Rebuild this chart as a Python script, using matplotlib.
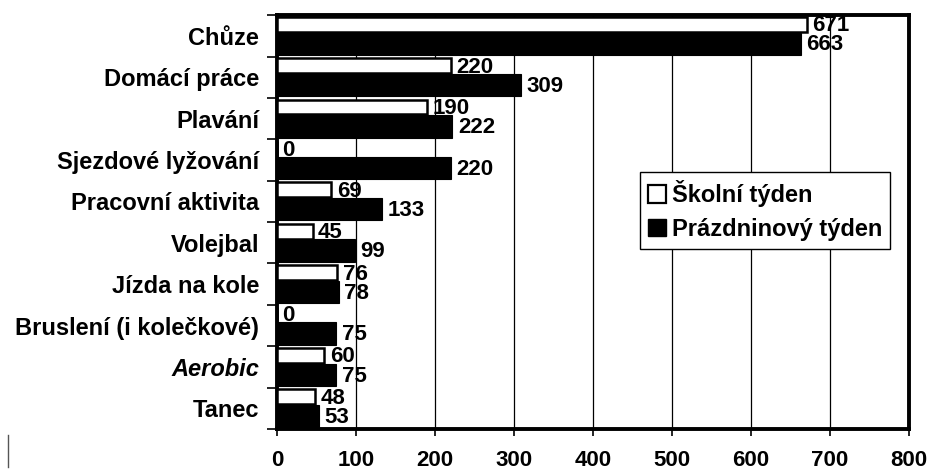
import numpy as np
import matplotlib
matplotlib.use("Agg")
import matplotlib.pyplot as plt
from matplotlib.patches import Patch
from matplotlib.lines import Line2D

plt.rcParams['font.family'] = ['Liberation Sans', 'DejaVu Sans']
plt.rcParams['font.weight'] = 'bold'

activities = ['Chůze', 'Domácí práce', 'Plavání', 'Sjezdové lyžování',
              'Pracovní aktivita', 'Volejbal', 'Jízda na kole',
              'Bruslení (i kolečkové)', 'Aerobic', 'Tanec']
school_week = [671, 220, 190, 0, 69, 45, 76, 0, 60, 48]
holiday_week = [663, 309, 222, 220, 133, 99, 78, 75, 75, 53]
x_ticks = [0, 100, 200, 300, 400, 500, 600, 700, 800]

fig = plt.figure(figsize=(9.32, 4.73), dpi=100)
ax = fig.add_axes([0.2972, 0.093, 0.678, 0.875])

y = np.arange(len(activities))
ax.barh(y - 0.28, school_week, height=0.36, color='white',
        edgecolor='black', linewidth=1.8, zorder=3)
ax.barh(y + 0.19, holiday_week, height=0.54, color='black',
        edgecolor='black', linewidth=0.8, zorder=3)

for yi, v in zip(y, school_week):
    ax.annotate(str(v), (v, yi - 0.24), xytext=(4, 0), textcoords='offset points',
                ha='left', va='center', fontsize=16, fontweight='bold', zorder=5)
for yi, v in zip(y, holiday_week):
    ax.annotate(str(v), (v, yi + 0.22), xytext=(4, 0), textcoords='offset points',
                ha='left', va='center', fontsize=16, fontweight='bold', zorder=5)

ax.set_xlim(0, 800)
ax.set_ylim(len(activities) - 0.5, -0.5)
ax.set_xticks(x_ticks)
ax.set_xticklabels([str(t) for t in x_ticks], fontsize=16, fontweight='bold')
ax.tick_params(axis='x', direction='out', length=5, width=1.2, pad=10)

ax.set_yticks(y)
ax.set_yticklabels(activities, fontsize=17, fontweight='bold')
ax.get_yticklabels()[activities.index('Aerobic')].set_fontstyle('italic')
ax.set_yticks(np.arange(len(activities) + 1) - 0.5, minor=True)
ax.tick_params(axis='y', which='major', length=0, pad=13)
ax.tick_params(axis='y', which='minor', direction='out', length=7, width=1.2)

ax.xaxis.grid(True, color='black', linewidth=0.9, zorder=0)
ax.set_axisbelow(True)
for side in ['top', 'right', 'left', 'bottom']:
    ax.spines[side].set_linewidth(2.8)

handles = [Patch(facecolor='white', edgecolor='black', linewidth=1.6),
           Patch(facecolor='black', edgecolor='black')]
leg = ax.legend(handles, ['Školní týden', 'Prázdninový týden'],
                loc='upper left', bbox_to_anchor=(0.574, 0.621),
                borderaxespad=0, fancybox=False, framealpha=1,
                handlelength=0.75, handleheight=0.75, handletextpad=0.25,
                borderpad=0.35, labelspacing=0.45,
                prop={'size': 17, 'weight': 'bold'})
leg.get_frame().set_edgecolor('black')
leg.get_frame().set_linewidth(1.0)

fig.add_artist(Line2D([8 / 932, 8 / 932], [1 - 435 / 473, 1 - 467 / 473],
                      transform=fig.transFigure, color='#555555', linewidth=1))

fig.savefig('out.png', dpi=100)
